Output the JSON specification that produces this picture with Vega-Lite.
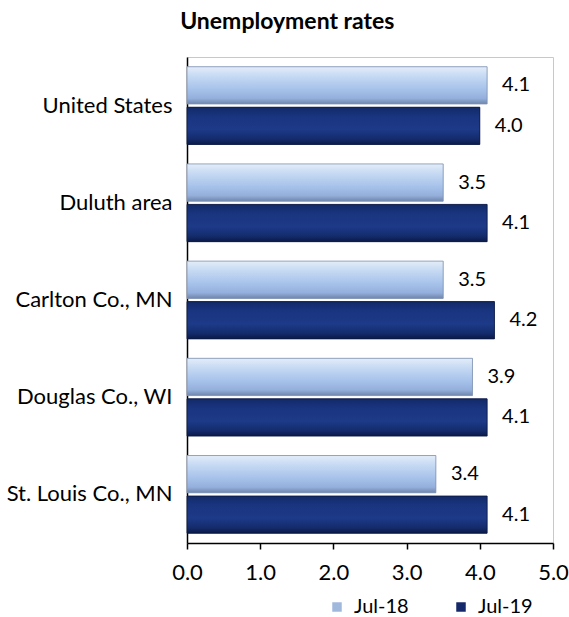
{
  "$schema": "https://vega.github.io/schema/vega-lite/v6.json",
  "width": 366,
  "height": 486,
  "autosize": {"type": "none"},
  "padding": {"left": 187, "top": 57, "right": 16, "bottom": 74},
  "background": "white",
  "config": {
    "font": "Lato",
    "view": {"stroke": "#c8c8c8", "strokeWidth": 1}
  },
  "title": {
    "text": "Unemployment rates",
    "font": "Lato",
    "fontSize": 23,
    "fontWeight": "bold",
    "color": "#000000",
    "anchor": "middle",
    "frame": "bounds",
    "offset": 23
  },
  "data": {
    "values": [
      {"area": "United States", "period": "Jul-18", "rate": 4.1},
      {"area": "United States", "period": "Jul-19", "rate": 4.0},
      {"area": "Duluth area", "period": "Jul-18", "rate": 3.5},
      {"area": "Duluth area", "period": "Jul-19", "rate": 4.1},
      {"area": "Carlton Co., MN", "period": "Jul-18", "rate": 3.5},
      {"area": "Carlton Co., MN", "period": "Jul-19", "rate": 4.2},
      {"area": "Douglas Co., WI", "period": "Jul-18", "rate": 3.9},
      {"area": "Douglas Co., WI", "period": "Jul-19", "rate": 4.1},
      {"area": "St. Louis Co., MN", "period": "Jul-18", "rate": 3.4},
      {"area": "St. Louis Co., MN", "period": "Jul-19", "rate": 4.1}
    ]
  },
  "encoding": {
    "y": {
      "field": "area",
      "type": "nominal",
      "sort": ["United States", "Duluth area", "Carlton Co., MN", "Douglas Co., WI", "St. Louis Co., MN"],
      "scale": {"paddingInner": 0.2, "paddingOuter": 0.1},
      "axis": {
        "title": null,
        "domainColor": "#000000",
        "domainWidth": 1.5,
        "ticks": false,
        "labelFontSize": 22,
        "labelColor": "#000000",
        "labelPadding": 15,
        "labelFont": "Lato",
        "labelLimit": 200
      }
    },
    "yOffset": {
      "field": "period",
      "type": "nominal",
      "sort": ["Jul-18", "Jul-19"],
      "scale": {"paddingInner": 0.08}
    },
    "x": {
      "field": "rate",
      "type": "quantitative",
      "scale": {"domain": [0, 5], "nice": false},
      "axis": {
        "title": null,
        "values": [0, 1, 2, 3, 4, 5],
        "format": ".1f",
        "grid": false,
        "labelFlush": false,
        "labelOverlap": false,
        "domainColor": "#000000",
        "domainWidth": 1.5,
        "tickColor": "#000000",
        "tickWidth": 1.5,
        "tickSize": 6,
        "labelFontSize": 22,
        "labelColor": "#000000",
        "labelPadding": 13,
        "labelFont": "Lato"
      }
    }
  },
  "layer": [
    {
      "mark": {"type": "bar"},
      "encoding": {
        "color": {
          "field": "period",
          "type": "nominal",
          "scale": {"domain": ["Jul-18", "Jul-19"], "range": ["#9fb8dc", "#14286a"]},
          "legend": {
            "title": null,
            "orient": "none",
            "direction": "horizontal",
            "legendX": 140,
            "legendY": 540,
            "symbolType": "square",
            "symbolSize": 90,
            "symbolStrokeWidth": 0,
            "labelFontSize": 20,
            "labelColor": "#000000",
            "labelFont": "Lato",
            "columnPadding": 42,
            "labelOffset": 7
          }
        }
      }
    },
    {
      "transform": [{"filter": "datum.period == 'Jul-18'"}],
      "mark": {
        "type": "bar",
        "stroke": "#8092b0",
        "strokeWidth": 0.8,
        "color": {
          "gradient": "linear",
          "x1": 0, "y1": 0, "x2": 0, "y2": 1,
          "stops": [
            {"offset": 0, "color": "#e3edf9"},
            {"offset": 0.25, "color": "#c6daf3"},
            {"offset": 0.6, "color": "#a7c2ea"},
            {"offset": 0.85, "color": "#94afdb"},
            {"offset": 1, "color": "#6f86ad"}
          ]
        }
      }
    },
    {
      "transform": [{"filter": "datum.period == 'Jul-19'"}],
      "mark": {
        "type": "bar",
        "stroke": "#0a1640",
        "strokeWidth": 0.8,
        "color": {
          "gradient": "linear",
          "x1": 0, "y1": 0, "x2": 0, "y2": 1,
          "stops": [
            {"offset": 0, "color": "#122a68"},
            {"offset": 0.25, "color": "#1a3580"},
            {"offset": 0.6, "color": "#1d3a88"},
            {"offset": 0.85, "color": "#142c6c"},
            {"offset": 1, "color": "#0a1a48"}
          ]
        }
      }
    },
    {
      "mark": {
        "type": "text",
        "align": "left",
        "baseline": "middle",
        "dx": 15,
        "fontSize": 20,
        "font": "Lato",
        "color": "#000000"
      },
      "encoding": {
        "text": {"field": "rate", "type": "quantitative", "format": ".1f"}
      }
    }
  ]
}
